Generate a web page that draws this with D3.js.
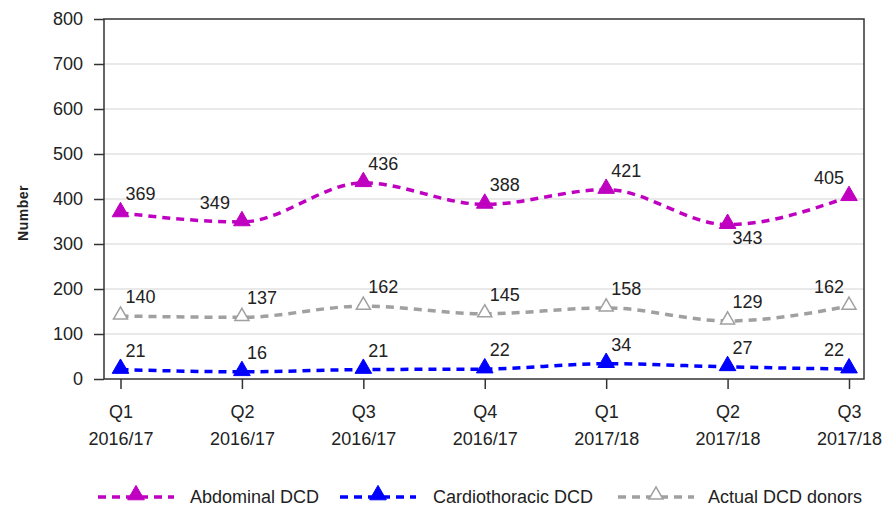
<!DOCTYPE html>
<html>
<head>
<meta charset="utf-8">
<script src="https://cdn.jsdelivr.net/npm/d3@7"></script>
<style>
  body { margin: 0; background: #fff; }
  text { font-family: "Liberation Sans", Arial, sans-serif; fill: #222; }
</style>
</head>
<body>
<div id="chart"></div>
<script>
// Quarter categories (two-line labels)
const quarters = ["Q1|2016/17", "Q2|2016/17", "Q3|2016/17", "Q4|2016/17", "Q1|2017/18", "Q2|2017/18", "Q3|2017/18"];
const abdominal = [369, 349, 436, 388, 421, 343, 405];
const cardio = [21, 16, 21, 22, 34, 27, 22];
const actual = [140, 137, 162, 145, 158, 129, 162];
const yTicks = [0, 100, 200, 300, 400, 500, 600, 700, 800];

// label placement per point: r = above right, l = above left, br = below right
const abdLabelPos = ["r", "l", "r", "r", "r", "br", "l"];
const cardioLabelPos = ["r", "r", "r", "r", "r", "r", "l"];
const actualLabelPos = ["r", "r", "r", "r", "r", "r", "l"];

const series = [
  { name: "Abdominal DCD", values: abdominal, color: "#c000c0", filled: true, pos: abdLabelPos },
  { name: "Cardiothoracic DCD", values: cardio, color: "#0000ff", filled: true, pos: cardioLabelPos },
  { name: "Actual DCD donors", values: actual, color: "#a0a0a0", filled: false, pos: actualLabelPos }
];

const W = 888, H = 509;
const plot = { left: 104, right: 864, top: 19, bottom: 379 };

const svg = d3.select("#chart").append("svg")
  .attr("width", W).attr("height", H);

const x = d3.scalePoint().domain(quarters).range([120.5, 849]);
const y = d3.scaleLinear().domain([0, 800]).range([plot.bottom, plot.top]);

// Gridlines
svg.append("g")
  .selectAll("line")
  .data(yTicks.filter(d => d > 0 && d < 800))
  .join("line")
  .attr("x1", plot.left).attr("x2", plot.right)
  .attr("y1", d => y(d)).attr("y2", d => y(d))
  .attr("stroke", "#e2e2e2").attr("stroke-width", 1.5);

// Border
svg.append("rect")
  .attr("x", plot.left).attr("y", plot.top)
  .attr("width", plot.right - plot.left).attr("height", plot.bottom - plot.top)
  .attr("fill", "none").attr("stroke", "#333").attr("stroke-width", 1.5);

// Y axis
const yAxis = svg.append("g")
  .attr("transform", `translate(${plot.left},0)`)
  .call(d3.axisLeft(y).tickValues(yTicks).tickSize(10).tickPadding(11));
yAxis.select(".domain").remove();
yAxis.selectAll(".tick line").attr("stroke", "#333").attr("stroke-width", 1.5);
yAxis.selectAll(".tick text").style("font-size", "18px").attr("fill", "#222");

// X axis
const xAxis = svg.append("g")
  .attr("transform", `translate(0,${plot.bottom})`)
  .call(d3.axisBottom(x).tickSize(10).tickFormat(""));
xAxis.select(".domain").remove();
xAxis.selectAll(".tick line").attr("stroke", "#333").attr("stroke-width", 1.5);
xAxis.selectAll(".tick").each(function (d) {
  const parts = d.split("|");
  const t = d3.select(this).append("text")
    .attr("text-anchor", "middle")
    .style("font-size", "18px")
    .attr("fill", "#222");
  t.append("tspan").attr("x", 0).attr("y", 39).text(parts[0]);
  t.append("tspan").attr("x", 0).attr("y", 66).text(parts[1]);
});

// Y label
svg.append("text")
  .attr("transform", `translate(28,${(plot.top + plot.bottom) / 2 + 14}) rotate(-90)`)
  .attr("text-anchor", "middle")
  .style("font-size", "14px")
  .style("font-weight", "bold")
  .style("letter-spacing", "0.5px")
  .text("Number");

const tri = d3.symbol().type(d3.symbolTriangle);

const line = d3.line()
  .x((d, i) => x(quarters[i]))
  .y(d => y(d))
  .curve(d3.curveMonotoneX);

series.forEach(s => {
  svg.append("path")
    .datum(s.values)
    .attr("d", line)
    .attr("fill", "none")
    .attr("stroke", s.color)
    .attr("stroke-width", 3.5)
    .attr("stroke-dasharray", "8,6");

  svg.append("g").selectAll("path")
    .data(s.values)
    .join("path")
    .attr("transform", (d, i) => `translate(${x(quarters[i])},${y(d) - 1})`)
    .attr("d", tri.size(s.filled ? 120 : 85))
    .attr("fill", s.filled ? s.color : "#fff")
    .attr("stroke", s.color)
    .attr("stroke-width", s.filled ? 1 : 1.5);

  svg.append("g").selectAll("text")
    .data(s.values)
    .join("text")
    .attr("x", (d, i) => x(quarters[i]) + (s.pos[i] === "l" ? (i === 1 ? -12 : -5) : 5))
    .attr("y", (d, i) => y(d) + (s.pos[i] === "br" ? 19 : -13))
    .attr("text-anchor", (d, i) => s.pos[i] === "l" ? "end" : "start")
    .style("font-size", "18px")
    .text(d => d);
});

// Legend
const legendItems = [
  { s: series[0], x0: 98, tx: 190 },
  { s: series[1], x0: 340, tx: 433 },
  { s: series[2], x0: 618, tx: 708 }
];
const ly = 497;
legendItems.forEach(item => {
  const g = svg.append("g");
  g.append("line")
    .attr("x1", item.x0).attr("x2", item.x0 + 76)
    .attr("y1", ly).attr("y2", ly)
    .attr("stroke", item.s.color)
    .attr("stroke-width", 3.5)
    .attr("stroke-dasharray", "8,6");
  g.append("path")
    .attr("transform", `translate(${item.x0 + 38},${ly - 2})`)
    .attr("d", tri.size(item.s.filled ? 120 : 85))
    .attr("fill", item.s.filled ? item.s.color : "#fff")
    .attr("stroke", item.s.color)
    .attr("stroke-width", item.s.filled ? 1 : 1.5);
  g.append("text")
    .attr("x", item.tx).attr("y", ly + 6)
    .style("font-size", "18px")
    .text(item.s.name);
});
</script>
</body>
</html>
